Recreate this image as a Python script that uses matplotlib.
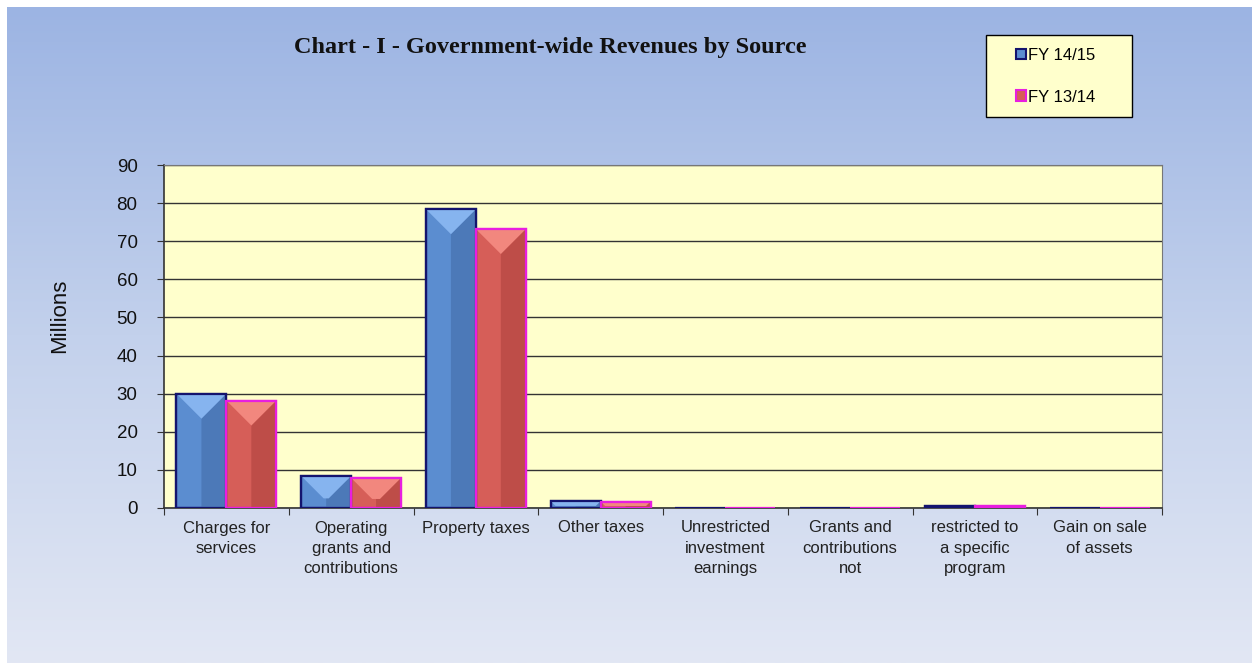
import matplotlib.pyplot as plt
import numpy as np
from matplotlib.patches import Polygon, Rectangle
from matplotlib.colors import LinearSegmentedColormap

categories = [
    "Charges for\nservices",
    "Operating\ngrants and\ncontributions",
    "Property taxes",
    "Other taxes",
    "Unrestricted\ninvestment\nearnings",
    "Grants and\ncontributions\nnot",
    "restricted to\na specific\nprogram",
    "Gain on sale\nof assets",
]
fy1415 = [30.0, 8.4, 78.4, 1.8, 0.0, 0.0, 0.4, 0.0]
fy1314 = [28.2, 7.9, 73.2, 1.7, 0.0, 0.0, 0.4, 0.0]
series_names = ["FY 14/15", "FY 13/14"]

# (face, darker right side, light top bevel, edge)
blue = ("#5b8dd0", "#4c79b8", "#86b4ef", "#14146e")
red = ("#d65e58", "#be4d48", "#f2877e", "#e81ee0")

plt.rcParams["font.family"] = ["Liberation Sans", "DejaVu Sans"]

fig = plt.figure(figsize=(12.52, 6.63), dpi=100)
fig.patch.set_facecolor("white")

# vertical gradient background
bg = fig.add_axes([7 / 1252, 0, 1 - 7 / 1252, 1 - 7 / 663])
bg.axis("off")
grad = LinearSegmentedColormap.from_list("bg", ["#9cb4e3", "#c3d1ec", "#e2e7f4"])
bg.imshow(np.linspace(0, 1, 256).reshape(-1, 1), aspect="auto", cmap=grad,
          extent=[0, 1, 0, 1])

ax = fig.add_axes([164 / 1252, 1 - 508 / 663, 998 / 1252, 343 / 663])
ax.set_facecolor("#ffffcc")
ax.set_zorder(2)

x = np.arange(len(categories))
w = 0.4
ax.set_xlim(-0.5, len(categories) - 0.5)
ax.set_ylim(0, 90)
ax.set_yticks(range(0, 91, 10))
ax.yaxis.grid(True, color="#333333", linewidth=1.0)
ax.set_axisbelow(True)

# pixels per data unit, used for the bevel shapes
px_x = 998 / len(categories)
px_y = 343 / 90


def bevel_bar(xs, vals, cols):
    bars = ax.bar(xs, vals, width=w, color=cols[0], edgecolor=cols[3],
                  linewidth=1.6, zorder=3)
    for b in bars:
        h = b.get_height()
        if h <= 0:
            continue
        x0, bw = b.get_x(), b.get_width()
        xc = x0 + bw / 2
        depth = min(bw * px_x / 2, 0.7 * h * px_y) / px_y
        inset = depth * px_y / px_x
        ax.add_patch(Polygon([(xc, 0), (x0 + bw, 0), (x0 + bw, h), (xc, h - depth)],
                             closed=True, facecolor=cols[1], edgecolor="none", zorder=3.1))
        ax.add_patch(Polygon([(x0, h), (x0 + bw, h), (x0 + bw - inset, h - depth),
                              (x0 + inset, h - depth)] if inset < bw / 2 else
                             [(x0, h), (x0 + bw, h), (xc, h - depth)],
                             closed=True, facecolor=cols[2], edgecolor="none", zorder=3.2))
        ax.add_patch(Rectangle((x0, 0), bw, h, facecolor="none", edgecolor=cols[3],
                               linewidth=1.6, zorder=3.3))
    return bars


bevel_bar(x - w / 2, fy1415, blue)
bevel_bar(x + w / 2, fy1314, red)

# category ticks sit between the groups, labels under each group
ax.set_xticks(np.arange(-0.5, len(categories), 1.0))
ax.set_xticklabels([])
ax.set_xticks(x, minor=True)
ax.set_xticklabels(categories, minor=True, fontsize=12, color="#222222",
                   linespacing=1.45)
ax.tick_params(axis="x", which="minor", length=0, pad=9)
ax.tick_params(axis="x", which="major", length=5, direction="out", color="#333333")
ax.tick_params(axis="y", length=5, direction="out", color="#333333", pad=14,
               labelsize=13.5, labelcolor="#111111")

for side in ["left", "bottom"]:
    ax.spines[side].set_color("#333333")
    ax.spines[side].set_linewidth(1.2)
for side in ["top", "right"]:
    ax.spines[side].set_color("#777777")

fig.text(60 / 1252, 1 - 316 / 663, "Millions", rotation=90, fontsize=16,
         ha="center", va="center", color="#111111")
fig.text(550 / 1252, 1 - 47 / 663, "Chart - I - Government-wide Revenues by Source",
         fontsize=17.5, fontweight="bold", family="Liberation Serif",
         ha="center", va="center", color="#111111")

# legend box
fig.patches.append(Rectangle((986 / 1252, 1 - 117 / 663), 146 / 1252, 82 / 663,
                             transform=fig.transFigure, facecolor="#ffffcc",
                             edgecolor="black", linewidth=1.0, zorder=3))
handles = [Rectangle((0, 0), 1, 1, facecolor=blue[0], edgecolor=blue[3], linewidth=1.5),
           Rectangle((0, 0), 1, 1, facecolor=red[0], edgecolor=red[3], linewidth=1.5)]
leg = fig.legend(handles, series_names, loc="upper left",
                 bbox_to_anchor=(1016 / 1252, 1 - 48 / 663), fontsize=12,
                 handlelength=0.6, handleheight=0.6, handletextpad=0.1,
                 labelspacing=1.6, borderpad=0, borderaxespad=0, frameon=False)
leg.set_zorder(4)

fig.savefig("out.png", dpi=100)
